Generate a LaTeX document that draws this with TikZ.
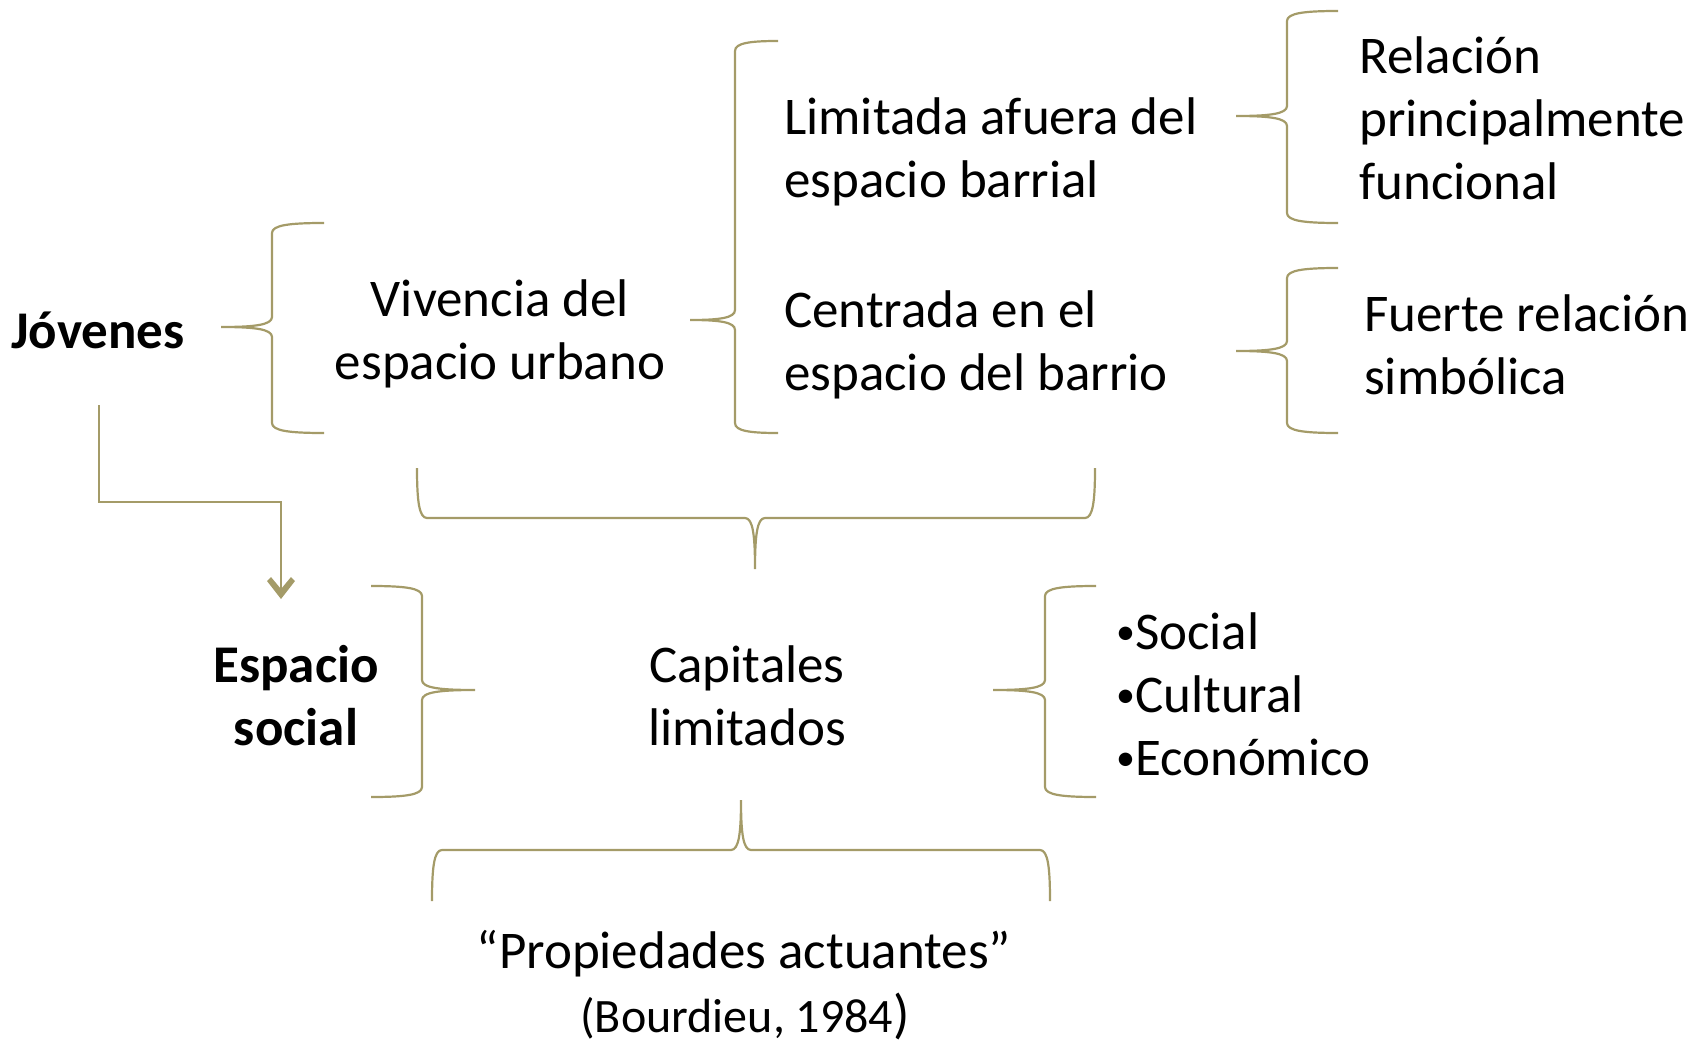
\documentclass[tikz,border=0pt]{standalone}
\usepackage{fontspec}
\setmainfont{Carlito}
\usepackage{tikz}
\usetikzlibrary{arrows.meta,calc}
\definecolor{braceol}{RGB}{164,155,104}
\tikzset{
	brace line/.style={line width=2.2pt, draw=braceol},
	big text/.style={font=\fontsize{53}{63}\selectfont, inner sep=0pt},
	small text/.style={font=\fontsize{48}{57}\selectfont, inner sep=0pt}
}
% #1 tip x, #2 tip y, #3 spine x, #4 end x, #5 top y, #6 bottom y
\newcommand{\vertbrace}[6]{
	\draw[brace line] (#4,#5) .. controls ({#3+0.35*(#4-#3)},#5) and (#3,{#5+2}) .. (#3,{#5+10}) -- (#3,{#2-10}) .. controls (#3,{#2-2}) and ({#3-0.35*(#3-#1)},#2) .. (#1,#2) .. controls ({#3-0.35*(#3-#1)},#2) and (#3,{#2+2}) .. (#3,{#2+10}) -- (#3,{#6-10}) .. controls (#3,{#6-2}) and ({#3+0.35*(#4-#3)},#6) .. (#4,#6);
}
% #1 tip x, #2 tip y, #3 spine y, #4 end y, #5 left x, #6 right x
\newcommand{\horizbrace}[6]{
	\draw[brace line] (#5,#4) .. controls (#5,{#3+0.35*(#4-#3)}) and ({#5+2},#3) .. ({#5+10},#3) -- ({#1-10},#3) .. controls ({#1-2},#3) and (#1,{#3-0.35*(#3-#2)}) .. (#1,#2) .. controls (#1,{#3-0.35*(#3-#2)}) and ({#1+2},#3) .. ({#1+10},#3) -- ({#6-10},#3) .. controls ({#6-2},#3) and (#6,{#3+0.35*(#4-#3)}) .. (#6,#4);
}
\newcommand{\bul}{{\fontsize{38}{45}\selectfont\raisebox{5pt}{•}}}
\begin{document}
\begin{tikzpicture}[x=1pt, y=-1pt]
	\useasboundingbox (0,0) rectangle (1707,1043);
%
	\node[big text, font=\fontsize{53}{63}\selectfont\bfseries] (jov) at (98,330) {Jóvenes};
	\node[big text, align=center] (viv) at (500,334) {Vivencia del\\espacio urbano};
	\node[big text, align=left, anchor=west] (lim) at (784,152) {Limitada afuera del\\espacio barrial};
	\node[big text, align=left, anchor=west] (cen) at (784,345) {Centrada en el\\espacio del barrio};
	\node[big text, align=left, anchor=west] (rel) at (1359,118) {Relación\\principalmente\\funcional};
	\node[big text, align=left, anchor=west] (fue) at (1364,345) {Fuerte relación\\simbólica};
%
	\node[big text, font=\fontsize{53}{63}\selectfont\bfseries, align=center] (esp) at (296,696) {Espacio\\social};
	\node[big text, align=center] (cap) at (747,696) {Capitales\\limitados};
	\node[big text, align=left, anchor=west] (lst) at (1116,694) {\bul Social\\\bul Cultural\\\bul Económico};
	\node[big text] (prop) at (744,954) {“Propiedades actuantes”};
	\node[small text] (bour) at (745,1016) {(Bourdieu, 1984{\fontsize{54}{63}\selectfont)}};
%
	\vertbrace{221}{327}{272}{324}{223}{433}
	\vertbrace{690}{320}{735}{778}{41}{433}
	\vertbrace{1236}{116}{1287}{1338}{11}{223}
	\vertbrace{1236}{351}{1287}{1338}{268}{433}
	\vertbrace{475}{690}{422}{371}{586}{797}
	\vertbrace{993}{690}{1045}{1096}{586}{797}
	\horizbrace{755}{569}{518}{468}{417}{1095}
	\horizbrace{741}{800}{850}{901}{432}{1050}
%
	\coordinate (jovdown) at (99,405);
	\coordinate (esptop) at (281,599);
	\draw[brace line] (jovdown) -- ++(0,97) -| ([yshift=8pt]esptop);
	\fill[braceol] (esptop) -- ++(-14,-18) -- ++(4,-4) -- ++(10,12) -- ++(10,-12) -- ++(4,4) -- cycle;
\end{tikzpicture}
\end{document}
